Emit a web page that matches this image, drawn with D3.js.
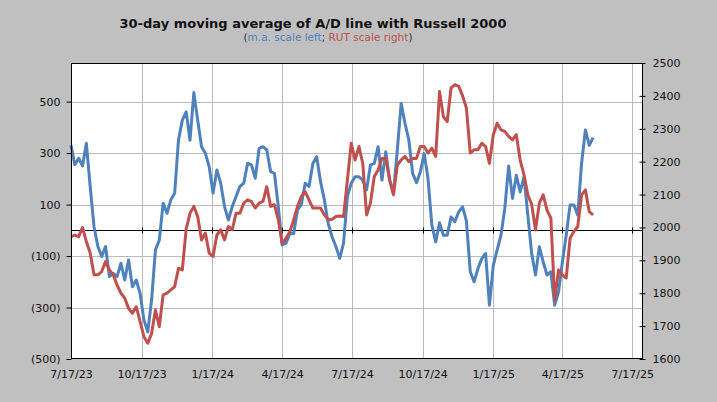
<!DOCTYPE html>
<html>
<head>
<meta charset="utf-8">
<script src="https://cdn.jsdelivr.net/npm/d3@7"></script>
<style>
  body { margin: 0; background: #c0c0c0; }
  svg { display: block; }
</style>
</head>
<body>
<svg id="chart" width="717" height="402"></svg>
<script>
// sampled every 5 days
const dates = [
  '2023-07-17','2023-07-22','2023-07-27','2023-08-01','2023-08-06','2023-08-11','2023-08-16','2023-08-21','2023-08-26','2023-08-31',
  '2023-09-05','2023-09-10','2023-09-15','2023-09-20','2023-09-25','2023-09-30','2023-10-05','2023-10-10','2023-10-15','2023-10-20',
  '2023-10-25','2023-10-30','2023-11-04','2023-11-09','2023-11-14','2023-11-19','2023-11-24','2023-11-29','2023-12-04','2023-12-09',
  '2023-12-14','2023-12-19','2023-12-24','2023-12-29','2024-01-03','2024-01-08','2024-01-13','2024-01-18','2024-01-23','2024-01-28',
  '2024-02-02','2024-02-07','2024-02-12','2024-02-17','2024-02-22','2024-02-27','2024-03-03','2024-03-08','2024-03-13','2024-03-18',
  '2024-03-23','2024-03-28','2024-04-02','2024-04-07','2024-04-12','2024-04-17','2024-04-22','2024-04-27','2024-05-02','2024-05-07',
  '2024-05-12','2024-05-17','2024-05-22','2024-05-27','2024-06-01','2024-06-06','2024-06-11','2024-06-16','2024-06-21','2024-06-26',
  '2024-07-01','2024-07-06','2024-07-11','2024-07-16','2024-07-21','2024-07-26','2024-07-31','2024-08-05','2024-08-10','2024-08-15',
  '2024-08-20','2024-08-25','2024-08-30','2024-09-04','2024-09-09','2024-09-14','2024-09-19','2024-09-24','2024-09-29','2024-10-04',
  '2024-10-09','2024-10-14','2024-10-19','2024-10-24','2024-10-29','2024-11-03','2024-11-08','2024-11-13','2024-11-18','2024-11-23',
  '2024-11-28','2024-12-03','2024-12-08','2024-12-13','2024-12-18','2024-12-23','2024-12-28','2025-01-02','2025-01-07','2025-01-12',
  '2025-01-17','2025-01-22','2025-01-27','2025-02-01','2025-02-06','2025-02-11','2025-02-16','2025-02-21','2025-02-26','2025-03-03',
  '2025-03-08','2025-03-13','2025-03-18','2025-03-23','2025-03-28','2025-04-02','2025-04-07','2025-04-12','2025-04-17','2025-04-22',
  '2025-04-27','2025-05-02','2025-05-07','2025-05-12','2025-05-17','2025-05-22','2025-05-27'
]

// 30-day m.a. of A/D line (left scale)
const adMA = [
  331, 255, 280, 250, 338, 170, 14, -63, -102, -63,
  -180, -167, -180, -128, -193, -115, -219, -193, -245, -348,
  -395, -270, -76, -38, 105, 66, 118, 144, 351, 428,
  460, 350, 535, 428, 325, 299, 247, 144, 234, 183,
  92, 40, 92, 131, 170, 183, 260, 254, 202, 318,
  325, 312, 228, 221, 92, -57, -50, -12, -12, 79,
  100, 183, 170, 260, 286, 189, 118, 27, -25, -63,
  -109, -50, 131, 183, 208, 208, 195, 157, 254, 260,
  325, 195, 305, 195, 144, 312, 493, 416, 351, 221,
  185, 227, 298, 201, 20, -45, 29, -19, -19, 52,
  33, 72, 91, 37, -161, -200, -149, -110, -90, -291,
  -136, -77, -19, 85, 250, 124, 214, 149, 208, 59,
  -90, -174, -64, -123, -174, -161, -291, -239, -123, -19,
  98, 98, 59, 260, 390, 330, 360
]

// Russell 2000 (right scale)
const rut = [
  1972, 1977, 1972, 2000, 1957, 1922, 1856, 1856, 1866, 1896,
  1871, 1856, 1825, 1800, 1785, 1754, 1739, 1759, 1714, 1668,
  1648, 1678, 1749, 1698, 1795, 1800, 1810, 1820, 1876, 1871,
  1995, 2043, 2064, 2033, 1962, 1983, 1922, 1912, 1977, 1993,
  1962, 2003, 1993, 2043, 2043, 2074, 2084, 2079, 2059, 2074,
  2079, 2124, 2064, 2069, 2023, 1952, 1967, 1987, 2023, 2064,
  2094, 2109, 2084, 2059, 2059, 2059, 2038, 2023, 2025, 2033,
  2035, 2033, 2145, 2256, 2205, 2246, 2195, 2038, 2074, 2155,
  2175, 2210, 2210, 2145, 2099, 2190, 2205, 2216, 2200, 2210,
  2210, 2246, 2246, 2226, 2241, 2216, 2413, 2337, 2322, 2424,
  2434, 2429, 2400, 2363, 2226, 2236, 2236, 2256, 2246, 2195,
  2282, 2317, 2297, 2292, 2277, 2266, 2282, 2205, 2160, 2099,
  2070, 1992, 2074, 2099, 2053, 2028, 1779, 1871, 1856, 1846,
  1967, 1988, 2003, 2099, 2114, 2048, 2038
]

const leftTicks = [-500, -300, -100, 100, 300, 500]
const rightTicks = [1600, 1700, 1800, 1900, 2000, 2100, 2200, 2300, 2400, 2500]
const xTicks = ['2023-07-17','2023-10-17','2024-01-17','2024-04-17','2024-07-17','2024-10-17','2025-01-17','2025-04-17','2025-07-17']

const parse = d3.timeParse('%Y-%m-%d')
const blue = '#4f81bd', red = '#c0504d'
const plotL = 71, plotR = 643, plotT = 63, plotB = 359

const svg = d3.select('#chart')

const x = d3.scaleTime()
  .domain([parse('2023-07-17'), parse('2025-07-31')])
  .range([plotL, plotR])
const yL = d3.scaleLinear().domain([-500, 650]).range([plotB, plotT])
const yR = d3.scaleLinear().domain([1600, 2500]).range([plotB, plotT])

const crisp = v => Math.round(v) + 0.5
const tickDates = xTicks.map(parse)

svg.append('rect')
  .attr('x', plotL).attr('y', plotT)
  .attr('width', plotR - plotL).attr('height', plotB - plotT)
  .attr('fill', '#fff')

// gridlines
const grid = svg.append('g').attr('stroke', '#bbb').attr('stroke-width', 1)
grid.selectAll('.h').data(leftTicks.filter(d => d > -500)).join('line')
  .attr('x1', plotL).attr('x2', plotR)
  .attr('y1', d => crisp(yL(d))).attr('y2', d => crisp(yL(d)))
grid.selectAll('.v').data(tickDates.slice(1)).join('line')
  .attr('y1', plotT).attr('y2', plotB)
  .attr('x1', d => crisp(x(d))).attr('x2', d => crisp(x(d)))

// zero line with tick marks
const y0 = crisp(yL(0))
svg.append('line')
  .attr('x1', plotL).attr('x2', plotR).attr('y1', y0).attr('y2', y0)
  .attr('stroke', '#000')
svg.selectAll('.zt').data(tickDates).join('line')
  .attr('x1', d => crisp(x(d))).attr('x2', d => crisp(x(d)))
  .attr('y1', y0 - 3).attr('y2', y0 + 3)
  .attr('stroke', '#000')

// series
const rows = dates.map((d, i) => ({ date: parse(d), ad: adMA[i], rut: rut[i] }))

svg.append('path')
  .datum(rows)
  .attr('fill', 'none')
  .attr('stroke', blue)
  .attr('stroke-width', 3)
  .attr('stroke-linejoin', 'round')
  .attr('d', d3.line().x(d => x(d.date)).y(d => yL(d.ad)))

svg.append('path')
  .datum(rows)
  .attr('fill', 'none')
  .attr('stroke', red)
  .attr('stroke-width', 3)
  .attr('stroke-linejoin', 'round')
  .attr('d', d3.line().x(d => x(d.date)).y(d => yR(d.rut)))

// frame
svg.append('rect')
  .attr('x', plotL + 0.5).attr('y', plotT + 0.5)
  .attr('width', plotR - plotL - 1).attr('height', plotB - plotT - 1)
  .attr('fill', 'none').attr('stroke', '#000')

const font = 'DejaVu Sans, Verdana, sans-serif'
const fmtLeft = d => d < 0 ? `(${Math.abs(d)})` : `${d}`

const gL = svg.append('g')
  .attr('transform', `translate(${plotL + 0.5},0)`)
  .call(d3.axisLeft(yL).tickValues(leftTicks).tickSize(5).tickPadding(6).tickFormat(fmtLeft))
gL.select('.domain').remove()

const gR = svg.append('g')
  .attr('transform', `translate(${plotR - 0.5},0)`)
  .call(d3.axisRight(yR).tickValues(rightTicks).tickSize(3).tickPadding(7).tickFormat(d3.format('d')))
gR.select('.domain').remove()
gR.selectAll('.tick line').attr('x1', -3)

const gX = svg.append('g')
  .attr('transform', `translate(0,${plotB})`)
  .call(d3.axisBottom(x).tickValues(tickDates).tickSize(0).tickPadding(11).tickFormat(d3.timeFormat('%-m/%-d/%y')))
gX.select('.domain').remove()

svg.selectAll('.tick text').attr('font-family', font).attr('font-size', 11).attr('fill', '#111')

svg.append('text')
  .attr('x', 313).attr('y', 28)
  .attr('text-anchor', 'middle')
  .attr('font-family', font).attr('font-size', 13).attr('font-weight', 'bold')
  .attr('fill', '#111')
  .text('30-day moving average of A/D line with Russell 2000')

const sub = svg.append('text')
  .attr('x', 328).attr('y', 41)
  .attr('text-anchor', 'middle')
  .attr('font-family', font).attr('font-size', 10.5)
  .attr('fill', '#333')
sub.append('tspan').text('(')
sub.append('tspan').attr('fill', blue).text('m.a. scale left')
sub.append('tspan').text('; ')
sub.append('tspan').attr('fill', red).text('RUT scale right')
sub.append('tspan').text(')')
</script>
</body>
</html>
